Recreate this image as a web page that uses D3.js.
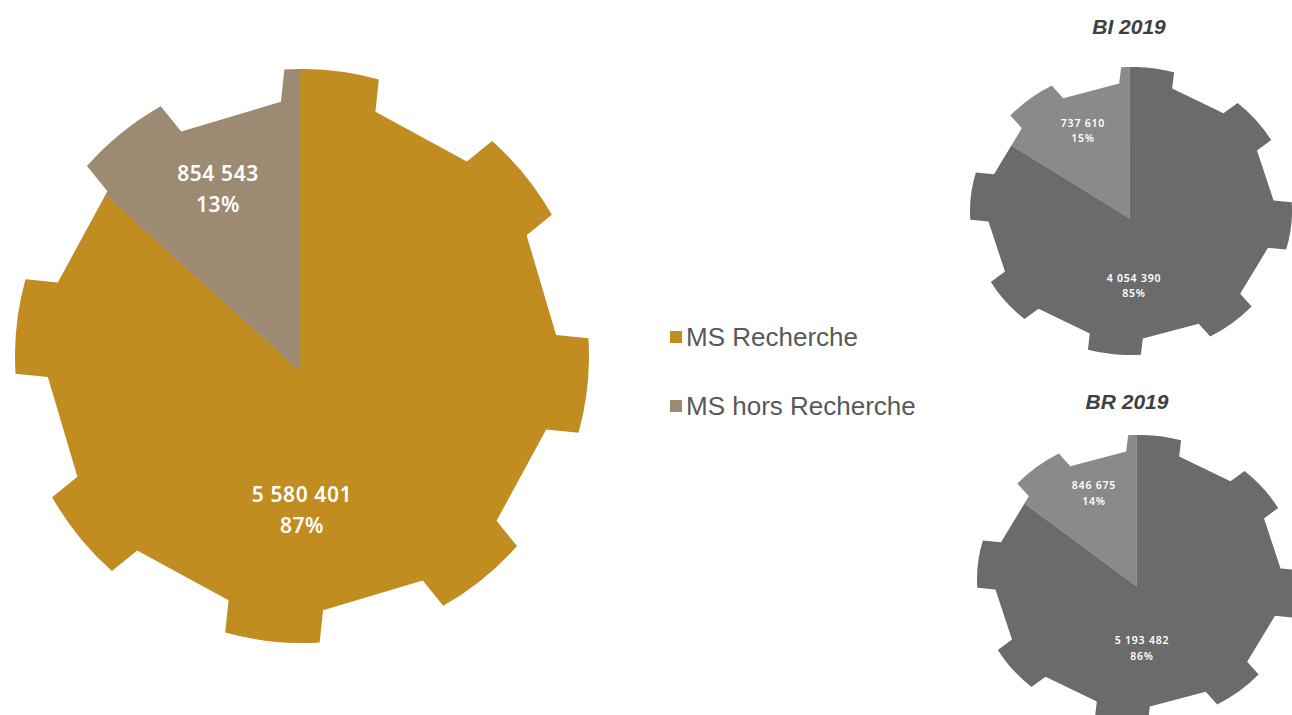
<!DOCTYPE html>
<html>
<head>
<meta charset="utf-8">
<script src="https://cdn.jsdelivr.net/npm/d3@7"></script>
<style>
  html, body { margin: 0; padding: 0; background: #ffffff; }
  svg { display: block; }
</style>
</head>
<body>
<svg id="chart" width="1292" height="715"></svg>
<script>
// ---------------- DATA ----------------
const categories = ["MS Recherche", "MS hors Recherche"];
const mainValues = [5580401, 854543];
const mainPercents = ["87%", "13%"];
const biTitle = "BI 2019";
const biValues = [4054390, 737610];
const biPercents = ["85%", "15%"];
const brTitle = "BR 2019";
const brValues = [5193482, 846675];
const brPercents = ["86%", "14%"];

// ---------------- STYLE / LAYOUT ----------------
const mainColors = ["#C18C20", "#9C8B72"];
const smallColors = ["#6B6B6B", "#8A8A8A"];

// gear geometry (unscaled units)
const gear = { R: 287, r: 255, half: 47.5, teeth: 8, offsetDeg: 6, pieDx: -2, pieDy: 15 };

const fmt = v => d3.format(",")(v).replace(/,/g, " ");

const svg = d3.select("#chart");
const defs = svg.append("defs");

function gearPath() {
  const { R, r, half, teeth, offsetDeg } = gear;
  const dr = Math.sqrt(r * r - half * half);
  const dR = Math.sqrt(R * R - half * half);
  let d = "";
  for (let i = 0; i < teeth; i++) {
    const a = (offsetDeg + i * 360 / teeth) * Math.PI / 180;
    const u = [Math.sin(a), -Math.cos(a)];
    const p = [Math.cos(a), Math.sin(a)];
    const bl = [dr * u[0] - half * p[0], dr * u[1] - half * p[1]];
    const tl = [dR * u[0] - half * p[0], dR * u[1] - half * p[1]];
    const tr = [dR * u[0] + half * p[0], dR * u[1] + half * p[1]];
    const br = [dr * u[0] + half * p[0], dr * u[1] + half * p[1]];
    d += (i === 0 ? "M" : "L") + bl[0] + "," + bl[1];
    d += "L" + tl[0] + "," + tl[1];
    d += "A" + R + "," + R + " 0 0 1 " + tr[0] + "," + tr[1];
    d += "L" + br[0] + "," + br[1];
  }
  return d + "Z";
}

function drawGearPie(id, cx, cy, sx, sy, values, colors) {
  defs.append("clipPath").attr("id", id)
    .append("path").attr("d", gearPath());
  const g = svg.append("g")
    .attr("transform", `translate(${cx},${cy}) scale(${sx},${sy})`)
    .attr("clip-path", `url(#${id})`);
  const pie = d3.pie().sort(null).startAngle(0).endAngle(2 * Math.PI);
  const arc = d3.arc().innerRadius(0).outerRadius(gear.R * 1.6);
  g.append("g")
    .attr("transform", `translate(${gear.pieDx},${gear.pieDy})`)
    .selectAll("path")
    .data(pie(values))
    .join("path")
    .attr("d", arc)
    .attr("fill", (d, i) => colors[i])
    .attr("stroke", (d, i) => colors[i])
    .attr("stroke-width", 0.5);
}

function drawLabels(items, size, lineGap, spacing) {
  items.forEach(it => {
    const t = svg.append("text")
      .attr("x", it.x).attr("y", it.y)
      .attr("text-anchor", "middle")
      .attr("fill", "#ffffff")
      .attr("font-family", "'Noto Sans', 'DejaVu Sans', sans-serif")
      .attr("font-weight", 600)
      .attr("font-size", size)
      .attr("letter-spacing", spacing);
    t.append("tspan").attr("x", it.x).text(fmt(it.value));
    t.append("tspan").attr("x", it.x).attr("dy", lineGap).text(it.pct);
  });
}

// ---- main gear ----
drawGearPie("clipMain", 302, 356, 1, 1, mainValues, mainColors);
drawLabels([
  { x: 302, y: 502, value: mainValues[0], pct: mainPercents[0] },
  { x: 218, y: 181, value: mainValues[1], pct: mainPercents[1] }
], 21, 31, 0.6);

// ---- legend ----
const legend = svg.append("g").attr("transform", "translate(670,0)");
const legendY = [331, 400];
categories.forEach((c, i) => {
  legend.append("rect").attr("x", 0).attr("y", legendY[i]).attr("width", 12).attr("height", 12)
    .attr("fill", mainColors[i]);
  legend.append("text").attr("x", 16).attr("y", legendY[i] + 15)
    .attr("font-family", "'Liberation Sans', Arial, sans-serif")
    .attr("font-size", 26)
    .attr("fill", "#595959")
    .text(c);
});

// ---- small gears ----
const sx = 0.561, sy = 0.502;
svg.append("text").attr("x", 1129).attr("y", 34).attr("text-anchor", "middle")
  .attr("font-family", "'Liberation Sans', Arial, sans-serif")
  .attr("font-weight", "bold").attr("font-style", "italic").attr("font-size", 21)
  .attr("fill", "#404040").text(biTitle);
drawGearPie("clipBI", 1131, 211, sx, sy, biValues, smallColors);
drawLabels([
  { x: 1134, y: 282, value: biValues[0], pct: biPercents[0] },
  { x: 1083, y: 127, value: biValues[1], pct: biPercents[1] }
], 10.5, 15, 0.8);

svg.append("text").attr("x", 1127).attr("y", 409).attr("text-anchor", "middle")
  .attr("font-family", "'Liberation Sans', Arial, sans-serif")
  .attr("font-weight", "bold").attr("font-style", "italic").attr("font-size", 21)
  .attr("fill", "#404040").text(brTitle);
drawGearPie("clipBR", 1138, 579, sx, sy, brValues, smallColors);
drawLabels([
  { x: 1142, y: 644, value: brValues[0], pct: brPercents[0] },
  { x: 1094, y: 489, value: brValues[1], pct: brPercents[1] }
], 10.5, 16, 0.8);
</script>
</body>
</html>
